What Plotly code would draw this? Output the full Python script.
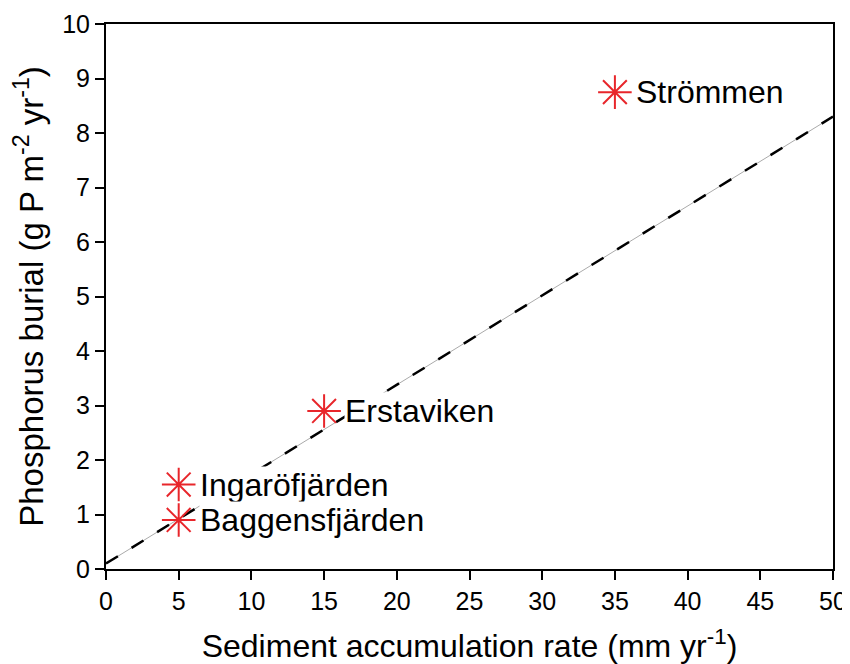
import plotly.graph_objects as go

sites = ["Strömmen", "Erstaviken", "Ingaröfjärden", "Baggensfjärden"]
sed_rate = [35, 15, 5, 5]
p_burial = [8.75, 2.9, 1.55, 0.9]

fit_x = [0, 50]
fit_y = [0.1, 8.3]

x_ticks = [0, 5, 10, 15, 20, 25, 30, 35, 40, 45, 50]
y_ticks = [0, 1, 2, 3, 4, 5, 6, 7, 8, 9, 10]

FONT = "Liberation Sans, Arial"

fig = go.Figure()
fig.add_trace(go.Scatter(x=fit_x, y=fit_y, mode="lines",
                         line=dict(color="#aaaaaa", width=1), showlegend=False, hoverinfo="skip"))
fig.add_trace(go.Scatter(x=fit_x, y=fit_y, mode="lines",
                         line=dict(color="black", width=2.5, dash="14px,16px"), showlegend=False, hoverinfo="skip"))
fig.add_trace(go.Scatter(x=sed_rate, y=p_burial, mode="markers",
                         marker=dict(symbol="asterisk-open", size=28, color="#e8262b",
                                     line=dict(color="#e8262b", width=2)),
                         showlegend=False))

for s, x, y in zip(sites, sed_rate, p_burial):
    fig.add_annotation(x=x, y=y, text=s, showarrow=False, xanchor="left", xshift=20,
                       font=dict(size=32, color="black", family=FONT),
                       bgcolor="white", borderpad=0)

axis_common = dict(showline=True, linecolor="black", linewidth=2, mirror=True,
                   ticks="outside", ticklen=9, tickwidth=2, tickcolor="black",
                   showgrid=False, zeroline=False, automargin=False,
                   tickfont=dict(size=25, color="black", family=FONT))

fig.update_xaxes(range=[0, 50], tickvals=x_ticks,
                 title=dict(text="Sediment accumulation rate (mm yr<sup>-1</sup>)",
                            font=dict(size=32, color="black", family=FONT),
                            standoff=22),
                 **axis_common)
fig.update_yaxes(range=[0, 10], tickvals=y_ticks,
                 title=dict(text="Phosphorus burial (g P m<sup>-2</sup> yr<sup>-1</sup>)",
                            font=dict(size=33, color="black", family=FONT),
                            standoff=12),
                 **axis_common)

# page body has an 8px margin, so the figure is sized/offset to compensate
fig.update_layout(width=842, height=656, plot_bgcolor="white", paper_bgcolor="white",
                  margin=dict(l=98, r=17, t=16, b=95),
                  font=dict(family=FONT))

fig.write_html("out.html")
